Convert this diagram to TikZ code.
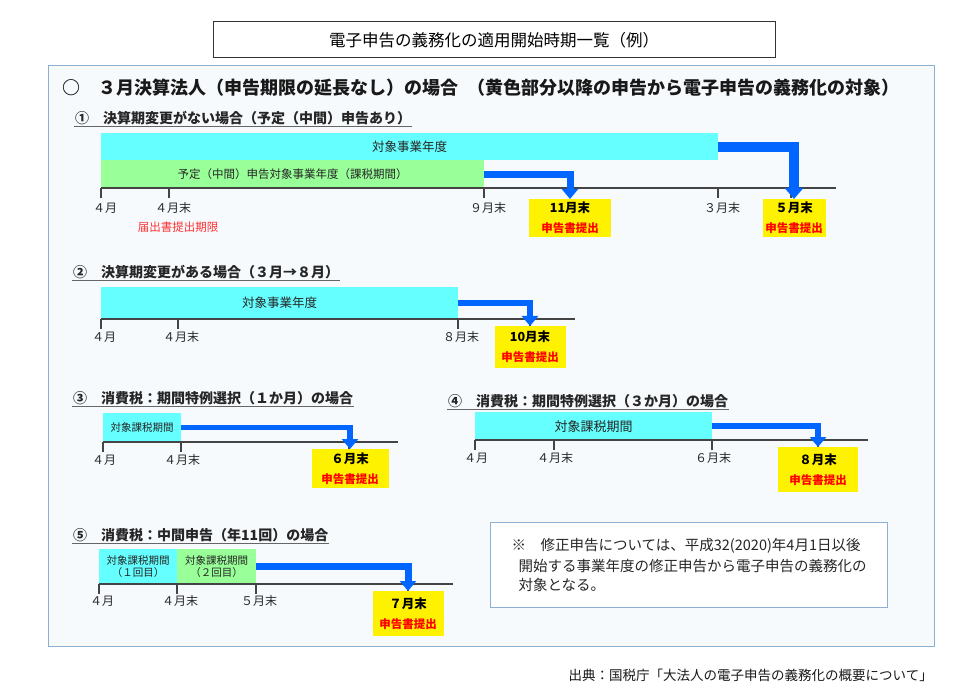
\documentclass[tikz,border=0pt]{standalone}
\usepackage{fontspec}
\setmainfont{Noto Sans CJK JP}
\usetikzlibrary{arrows.meta,positioning}

\definecolor{barcyan}{HTML}{66FFFF}
\definecolor{bargreen}{HTML}{99FF99}
\definecolor{flowblue}{HTML}{0066FF}
\definecolor{duered}{HTML}{FF0000}
\definecolor{notered}{HTML}{FF3333}
\definecolor{panelfill}{HTML}{F7FAFD}
\definecolor{panelline}{HTML}{8CAFD2}
\definecolor{axisgray}{HTML}{444444}

\newcommand{\fsz}[1]{\fontsize{#1}{#1}\selectfont}
\newcommand{\filing}[1]{{\fsz{12.5}\bfseries #1}\\[8pt]{\fsz{11.5}\bfseries\color{duered}申告書提出}}

\tikzset{
  periodbar/.style={anchor=north west, inner sep=0pt, text=black!85},
  cyanbar/.style={periodbar, fill=barcyan},
  greenbar/.style={periodbar, fill=bargreen},
  duebox/.style={fill=yellow, anchor=north, align=center, inner sep=0pt, font=\fsz{12}},
  dueflow/.style={draw=flowblue, line width=7pt, -{Triangle[width=16pt,length=10pt]}},
  timeline/.style={draw=axisgray, line width=1.4pt},
  tickmark/.style={draw=axisgray, line width=1.2pt},
  mlabel/.style={font=\fsz{12}, text=black!85, inner sep=0pt},
  subhead/.style={anchor=west, font=\fsz{14}\bfseries, text=black!85, inner sep=1pt},
  underline/.style={draw=black!60, line width=0.9pt},
}

\begin{document}
\begin{tikzpicture}[x=1pt,y=-1pt]

\fill[white] (0,0) rectangle (955,700);
\useasboundingbox (0,0) rectangle (955,700);

% title and panel
\node[draw=black!80, fill=white, line width=1pt, minimum width=562pt, minimum height=36pt, font=\fsz{16.5}] (title) at (494,40) {電子申告の義務化の適用開始時期一覧（例）};

\draw[panelline, fill=panelfill, line width=1pt] (48,66) rectangle (934,646);

\node[anchor=west, font=\fsz{18}\bfseries, text=black!90, inner sep=0pt] (head) at (62,88) {○　３月決算法人（申告期限の延長なし）の場合\hspace{9pt}（黄色部分以降の申告から電子申告の義務化の対象）};

% (1)
\node[subhead] (s1) at (74,118) {①　決算期変更がない場合（予定（中間）申告あり）};
\draw[underline] (s1.south west) -- (s1.south east);

\node[cyanbar, minimum width=617pt, minimum height=27pt, font=\fsz{12.5}] (fy1) at (101,133) {対象事業年度};
\node[greenbar, minimum width=383pt, minimum height=28pt, font=\fsz{11.5}] (iy1) at (101,160) {予定（中間）申告対象事業年度（課税期間）};

\draw[timeline] (101,188) -- (836,188);
\foreach \x/\m in {101/４月,169/４月末,484/９月末,718/３月末} {
  \draw[tickmark] (\x,188) -- ++(0,10);
  \node[mlabel] (a\x) at (\x+4,208) {\m};
}
\draw[tickmark] (570,188) -- ++(0,10);
\draw[tickmark] (791,188) -- ++(0,10);
\node[font=\fsz{11.5}, text=notered, inner sep=0pt] (notice) at (178,227) {届出書提出期限};

\node[duebox, minimum width=82pt, minimum height=38pt] (d11) at (570,199) {\filing{11月末}};
\node[duebox, minimum width=63pt, minimum height=38pt] (d5) at (794,199) {\filing{５月末}};
\draw[dueflow] (iy1.east) -| (d11.north);
\draw[dueflow, line width=10pt, -{Triangle[width=18pt,length=11pt]}] (fy1.east) -| (d5.north);

% (2)
\node[subhead] (s2) at (72,272) {②　決算期変更がある場合（３月→８月）};
\draw[underline] (s2.south west) -- (s2.south east);

\node[cyanbar, minimum width=357pt, minimum height=32pt, font=\fsz{12.5}] (fy2) at (101,287) {対象事業年度};

\draw[timeline] (101,319) -- (575,319);
\foreach \x/\m in {101/４月,178/４月末,458/８月末} {
  \draw[tickmark] (\x,319) -- ++(0,10);
  \node[mlabel] (b\x) at (\x+3,337) {\m};
}
\draw[tickmark] (530,319) -- ++(0,10);

\node[duebox, minimum width=71pt, minimum height=42pt] (d10) at (530,326) {\filing{10月末}};
\draw[dueflow, line width=6.5pt] (fy2.east) -| (d10.north);

% (3)
\node[subhead] (s3) at (72,398) {③　消費税：期間特例選択（１か月）の場合};
\draw[underline] (s3.south west) -- (s3.south east);

\node[cyanbar, minimum width=78pt, minimum height=29pt, font=\fsz{10.5}] (tp3) at (103,413) {対象課税期間};

\draw[timeline] (103,442) -- (398,442);
\foreach \x/\m in {103/４月,181/４月末} {
  \draw[tickmark] (\x,442) -- ++(0,10);
  \node[mlabel] (c\x) at (\x+1,460) {\m};
}
\draw[tickmark] (349,442) -- ++(0,10);

\node[duebox, minimum width=77pt, minimum height=39pt] (d6) at (350,449) {\filing{６月末}};
\draw[dueflow, line width=5.5pt] (tp3.east) -| (d6.north);

% (4)
\node[subhead] (s4) at (447,401) {④　消費税：期間特例選択（３か月）の場合};
\draw[underline] (s4.south west) -- (s4.south east);

\node[cyanbar, minimum width=237pt, minimum height=28pt, font=\fsz{13}] (tp4) at (475,412) {対象課税期間};

\draw[timeline] (475,440) -- (868,440);
\foreach \x/\m in {475/４月,554/４月末,712/６月末} {
  \draw[tickmark] (\x,440) -- ++(0,10);
  \node[mlabel] (e\x) at (\x+1,458) {\m};
}
\draw[tickmark] (818,440) -- ++(0,10);

\node[duebox, minimum width=80pt, minimum height=45pt] (d8) at (818,447) {\filing{８月末}};
\draw[dueflow, line width=6.5pt] (tp4.east) -| (d8.north);

% (5)
\node[subhead] (s5) at (72,535) {⑤　消費税：中間申告（年11回）の場合};
\draw[underline] (s5.south west) -- (s5.south east);

\node[cyanbar, minimum width=78pt, minimum height=35pt, font=\fontsize{10.5}{11.5}\selectfont, align=center] (tp51) at (99,549) {対象課税期間\\（１回目）};
\node[greenbar, minimum width=79pt, minimum height=35pt, font=\fontsize{10.5}{11.5}\selectfont, align=center] (tp52) at (177,549) {対象課税期間\\（２回目）};

\draw[timeline] (99,584) -- (453,584);
\foreach \x/\m in {99/４月,177/４月末,256/５月末} {
  \draw[tickmark] (\x,584) -- ++(0,10);
  \node[mlabel] (f\x) at (\x+3,601) {\m};
}
\draw[tickmark] (408,584) -- ++(0,10);

\node[duebox, minimum width=71pt, minimum height=45pt] (d7) at (408,591) {\filing{７月末}};
\draw[dueflow] (tp52.east) -| (d7.north);

% note and source
\node[draw=panelline, fill=white, line width=1.2pt, anchor=north west, minimum width=397pt, minimum height=85pt, align=left, font=\fsz{14.5}, text=black!85] (note) at (490,522) {※　修正申告については、平成32(2020)年4月1日以後\\[5pt]\hspace{7pt}開始する事業年度の修正申告から電子申告の義務化の\\[5pt]\hspace{7pt}対象となる。};

\node[anchor=east, font=\fsz{13.5}, text=black!90, inner sep=0pt] (src) at (933,675) {出典：国税庁「大法人の電子申告の義務化の概要について」};

\end{tikzpicture}
\end{document}
